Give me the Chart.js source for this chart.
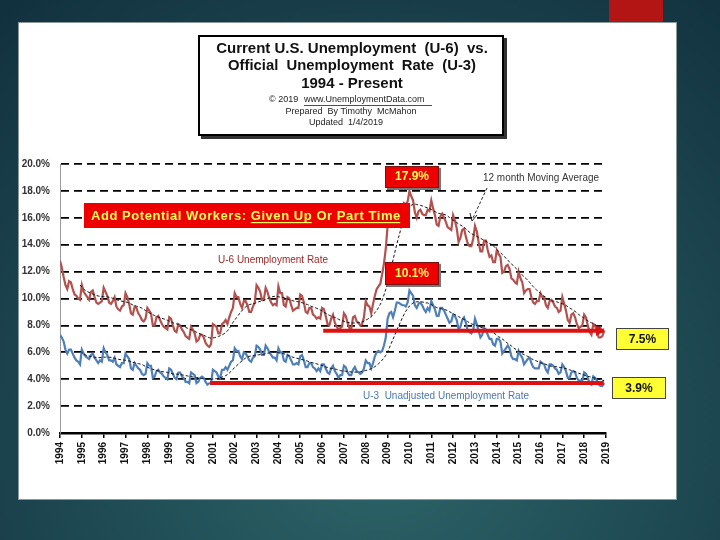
<!DOCTYPE html>
<html>
<head>
<meta charset="utf-8">
<script src="https://cdn.jsdelivr.net/npm/chart.js@4.4.1/dist/chart.umd.min.js"></script>
<style>
html, body { margin: 0; padding: 0; background: #1b4552; }
canvas { display: block; }
</style>
</head>
<body>
<canvas id="myChart" width="720" height="540"></canvas>
<script>
// Data (monthly, not seasonally adjusted), Jan 1994 .. Dec 2018
const startYear = 1994;
const endYear = 2019;
const yTickValues = [0, 2, 4, 6, 8, 10, 12, 14, 16, 18, 20];

const u6Rate = [
    12.8, 12.3, 11.6, 11.0, 10.7, 11.3, 11.2, 10.7, 10.3, 10.2, 10.0, 9.9,   // 1994
    11.0, 10.5, 10.3, 10.1, 9.9, 10.5, 10.6, 10.1, 9.7, 9.6, 9.7, 9.8,        // 1995
    10.8, 10.5, 10.2, 9.7, 9.6, 9.8, 10.1, 9.4, 9.2, 9.1, 9.4, 9.5,           // 1996
    10.4, 10.1, 9.6, 8.9, 8.8, 9.4, 9.3, 8.9, 8.7, 8.4, 8.3, 8.5,             // 1997
    9.3, 9.1, 8.9, 8.0, 8.0, 8.6, 8.7, 8.4, 8.1, 7.9, 7.8, 7.7,               // 1998
    8.6, 8.5, 8.0, 7.6, 7.5, 8.1, 8.0, 7.7, 7.5, 7.2, 7.1, 7.0,               // 1999
    7.9, 7.7, 7.4, 6.8, 6.9, 7.3, 7.3, 7.1, 6.7, 6.5, 6.4, 6.6,               // 2000
    8.1, 8.0, 7.9, 7.4, 7.4, 8.1, 8.2, 8.4, 8.1, 8.6, 9.0, 9.3,               // 2001
    10.4, 10.1, 10.1, 9.6, 9.3, 9.8, 9.8, 9.5, 9.0, 9.0, 9.4, 9.7,           // 2002
    11.0, 10.8, 10.5, 9.9, 9.9, 10.8, 10.5, 10.0, 9.7, 9.5, 9.6, 9.5,        // 2003
    10.9, 10.4, 10.4, 9.5, 9.4, 10.1, 10.0, 9.5, 9.1, 9.2, 9.3, 9.3,         // 2004
    10.3, 10.2, 9.7, 9.0, 8.9, 9.3, 9.3, 8.8, 8.7, 8.5, 8.6, 8.5,            // 2005
    9.3, 9.2, 8.7, 8.1, 8.0, 8.5, 8.8, 8.2, 7.9, 7.7, 7.8, 7.9,               // 2006
    8.9, 8.7, 8.2, 7.8, 7.7, 8.6, 8.7, 8.3, 8.2, 8.0, 8.1, 8.6,               // 2007
    9.8, 9.5, 9.4, 8.9, 9.6, 10.2, 10.7, 10.9, 11.1, 11.8, 12.6, 13.7,       // 2008
    15.4, 16.1, 16.4, 16.1, 16.4, 17.0, 16.9, 16.8, 16.6, 17.1, 17.0, 17.2,  // 2009
    18.0, 17.6, 17.3, 16.4, 16.0, 16.5, 16.6, 16.3, 16.2, 16.2, 16.6, 16.5,  // 2010
    17.3, 16.7, 16.2, 15.5, 15.4, 16.1, 16.3, 16.0, 15.7, 15.3, 15.2, 15.1,  // 2011
    16.2, 15.8, 15.2, 14.2, 14.5, 15.1, 15.2, 14.6, 14.1, 13.9, 13.9, 14.4,  // 2012
    15.4, 15.0, 14.2, 13.5, 13.5, 14.3, 14.3, 13.6, 13.1, 13.2, 12.7, 12.7,  // 2013
    13.6, 13.3, 13.1, 11.9, 12.0, 12.4, 12.5, 12.2, 11.5, 11.4, 11.2, 11.1,  // 2014
    12.0, 11.5, 11.2, 10.4, 10.6, 10.7, 10.7, 10.1, 9.7, 9.6, 9.8, 9.8,      // 2015
    10.4, 10.1, 10.1, 9.5, 9.3, 9.8, 9.9, 9.7, 9.4, 9.3, 9.0, 9.1,           // 2016
    10.1, 9.6, 9.1, 8.4, 8.2, 8.8, 8.9, 8.6, 8.1, 7.8, 7.9, 8.0,             // 2017
    8.8, 8.6, 8.0, 7.5, 7.3, 8.1, 8.0, 7.5, 7.1, 7.1, 7.2, 7.6                // 2018
];

const u3Rate = [
    7.3, 7.1, 6.8, 6.2, 5.9, 6.2, 6.2, 5.9, 5.6, 5.4, 5.3, 5.1,   // 1994
    6.2, 5.9, 5.7, 5.6, 5.5, 5.8, 5.9, 5.6, 5.4, 5.2, 5.4, 5.3,   // 1995
    6.3, 6.0, 5.8, 5.4, 5.4, 5.3, 5.6, 5.1, 5.0, 4.9, 5.2, 5.2,   // 1996
    5.9, 5.7, 5.5, 4.8, 4.7, 5.2, 5.0, 4.8, 4.7, 4.4, 4.3, 4.4,   // 1997
    5.2, 5.0, 5.0, 4.1, 4.2, 4.6, 4.7, 4.5, 4.4, 4.2, 4.1, 4.0,   // 1998
    4.8, 4.7, 4.4, 4.1, 4.0, 4.5, 4.5, 4.2, 4.1, 3.8, 3.8, 3.7,   // 1999
    4.5, 4.4, 4.3, 3.7, 3.8, 4.1, 4.2, 4.1, 3.8, 3.6, 3.7, 3.7,   // 2000
    4.7, 4.6, 4.5, 4.2, 4.1, 4.7, 4.7, 4.9, 4.7, 5.0, 5.3, 5.4,   // 2001
    6.3, 6.1, 6.1, 5.7, 5.5, 6.0, 5.9, 5.7, 5.4, 5.3, 5.6, 5.7,   // 2002
    6.5, 6.4, 6.2, 5.8, 5.8, 6.5, 6.3, 6.0, 5.8, 5.6, 5.6, 5.4,   // 2003
    6.3, 6.0, 6.0, 5.4, 5.3, 5.8, 5.7, 5.4, 5.1, 5.1, 5.2, 5.1,   // 2004
    5.7, 5.8, 5.4, 4.9, 4.9, 5.2, 5.2, 4.9, 4.8, 4.6, 4.8, 4.6,   // 2005
    5.1, 5.1, 4.8, 4.5, 4.4, 4.8, 5.0, 4.6, 4.4, 4.1, 4.3, 4.3,   // 2006
    5.0, 4.9, 4.5, 4.3, 4.3, 4.7, 4.9, 4.6, 4.5, 4.4, 4.5, 4.8,   // 2007
    5.4, 5.2, 5.2, 4.8, 5.2, 5.7, 6.0, 6.1, 6.0, 6.1, 6.5, 7.1,   // 2008
    8.5, 8.9, 9.0, 8.6, 9.1, 9.7, 9.7, 9.6, 9.5, 9.5, 9.4, 9.7,   // 2009
    10.6, 10.4, 10.2, 9.5, 9.3, 9.6, 9.7, 9.5, 9.2, 9.0, 9.3, 9.1, // 2010
    9.8, 9.5, 9.2, 8.7, 8.7, 9.3, 9.3, 9.1, 8.8, 8.5, 8.2, 8.3,   // 2011
    8.8, 8.7, 8.4, 7.7, 7.9, 8.4, 8.6, 8.2, 7.6, 7.5, 7.4, 7.6,   // 2012
    8.5, 8.1, 7.6, 7.1, 7.3, 7.8, 7.7, 7.3, 7.0, 7.0, 6.6, 6.5,   // 2013
    7.0, 7.0, 6.8, 5.9, 6.1, 6.3, 6.5, 6.3, 5.7, 5.5, 5.5, 5.4,   // 2014
    6.1, 5.8, 5.6, 5.1, 5.3, 5.5, 5.6, 5.2, 4.9, 4.8, 4.8, 4.8,   // 2015
    5.3, 5.2, 5.1, 4.7, 4.5, 5.1, 5.1, 5.0, 4.8, 4.7, 4.4, 4.5,   // 2016
    5.1, 4.9, 4.6, 4.1, 4.1, 4.5, 4.6, 4.5, 4.1, 3.9, 3.9, 3.9,   // 2017
    4.5, 4.4, 4.1, 3.7, 3.6, 4.2, 4.1, 3.9, 3.6, 3.5, 3.5, 3.7    // 2018
];

// red "floor" lines drawn on the chart
const u6FloorYears = [2006.05, 2018.9];
const u6FloorLevel = [7.6, 7.6];
const u3FloorYears = [2000.87, 2018.9];
const u3FloorLevel = [3.72, 3.72];

// callout labels
const u6PeakLabel = "17.9%";
const u3PeakLabel = "10.1%";
const u6NowLabel = "7.5%";
const u3NowLabel = "3.9%";


function toPoints(values) {
    return values.map((v, i) => ({ x: startYear + i / 12, y: v }));
}

function movingAverage(values) {
    const out = [];
    for (let i = 11; i < values.length; i++) {
        let s = 0;
        for (let k = i - 11; k <= i; k++) s += values[k];
        out.push({ x: startYear + i / 12, y: s / 12 });
    }
    return out;
}

function pairPoints(xs, ys) {
    return xs.map((x, i) => ({ x: x, y: ys[i] }));
}

const FONT = "'Liberation Sans', Arial, sans-serif";

function box(ctx, x1, y1, x2, y2, fill, stroke, shadow) {
    if (shadow) {
        ctx.fillStyle = shadow;
        ctx.fillRect(x1 + 2, y1 + 2, x2 - x1, y2 - y1);
    }
    ctx.fillStyle = fill;
    ctx.fillRect(x1, y1, x2 - x1, y2 - y1);
    if (stroke) {
        ctx.strokeStyle = stroke;
        ctx.lineWidth = 1;
        ctx.strokeRect(x1 + 0.5, y1 + 0.5, x2 - x1 - 1, y2 - y1 - 1);
    }
}

function text(ctx, str, x, y, font, color, align, maxW) {
    ctx.font = font;
    ctx.fillStyle = color;
    ctx.textAlign = align || "center";
    ctx.textBaseline = "middle";
    if (maxW) ctx.fillText(str, x, y, maxW);
    else ctx.fillText(str, x, y);
}

// background, slide panel, title box
const backdrop = {
    id: "backdrop",
    beforeDraw(chart) {
        const ctx = chart.ctx;
        ctx.save();
        const g = ctx.createRadialGradient(380, 430, 20, 380, 430, 560);
        g.addColorStop(0, "#2c6468");
        g.addColorStop(1, "#12313f");
        ctx.fillStyle = g;
        ctx.fillRect(0, 0, 720, 540);

        ctx.fillStyle = "#b31414";
        ctx.fillRect(609, 0, 54, 22);

        ctx.fillStyle = "#ffffff";
        ctx.fillRect(18, 22, 659, 478);
        ctx.strokeStyle = "#8a9a9c";
        ctx.lineWidth = 1;
        ctx.strokeRect(18.5, 22.5, 658, 477);

        // title box
        ctx.fillStyle = "#333";
        ctx.fillRect(201, 38, 306, 101);
        ctx.fillStyle = "#fff";
        ctx.fillRect(198, 35, 306, 101);
        ctx.strokeStyle = "#000";
        ctx.lineWidth = 2;
        ctx.strokeRect(199, 36, 304, 99);

        const cx = 352;
        text(ctx, "Current U.S. Unemployment  (U-6)  vs.", cx, 49, "bold 15px " + FONT, "#111", "center", 274);
        text(ctx, "Official  Unemployment  Rate  (U-3)", cx, 66, "bold 15px " + FONT, "#111", "center", 248);
        text(ctx, "1994 - Present", cx, 84, "bold 15px " + FONT, "#111", "center", 122);

        ctx.font = "9px " + FONT;
        ctx.textAlign = "left";
        ctx.fillStyle = "#222";
        ctx.fillText("\u00A9 2019", 269, 100, 30);
        ctx.fillText("www.UnemploymentData.com", 304, 100, 128);
        ctx.fillRect(304, 105, 128, 0.8);
        text(ctx, "Prepared  By Timothy  McMahon", 351, 112, "9px " + FONT, "#222", "center", 134);
        text(ctx, "Updated  1/4/2019", 346, 123, "9px " + FONT, "#222", "center", 84);
        ctx.restore();
    }
};

// text boxes and notes over the plot
const callouts = {
    id: "callouts",
    afterDraw(chart) {
        const ctx = chart.ctx;
        ctx.save();

        // small arrow head on the U-6 floor line
        ctx.fillStyle = "#dd1111";
        ctx.beginPath();
        ctx.moveTo(596, 325.5);
        ctx.lineTo(605, 330.7);
        ctx.lineTo(596, 336);
        ctx.closePath();
        ctx.fill();

        // big red banner, letter-spaced to fill the box
        box(ctx, 84, 203, 410, 228, "#ee0000", null, null);
        ctx.font = "bold 13px " + FONT;
        ctx.textBaseline = "middle";
        ctx.textAlign = "left";
        ctx.fillStyle = "#ffff55";
        const parts = [
            ["Add Potential Workers: ", false],
            ["Given Up", true],
            [" Or ", false],
            ["Part Time", true]
        ];
        const full = parts.map(p => p[0]).join("");
        const natural = ctx.measureText(full).width;
        const spacing = Math.max(0, (310 - natural) / full.length);
        ctx.letterSpacing = spacing.toFixed(2) + "px";
        let px = 91;
        parts.forEach(p => {
            const w = ctx.measureText(p[0]).width;
            ctx.fillText(p[0], px, 216);
            if (p[1]) ctx.fillRect(px, 222, w - spacing, 1.2);
            px += w;
        });
        ctx.letterSpacing = "0px";

        // peak boxes
        box(ctx, 385, 166, 439, 188, "#ee0000", "#7a1010", "#777");
        text(ctx, u6PeakLabel, 412, 177, "bold 12px " + FONT, "#ffff55", "center");
        box(ctx, 385, 262, 439, 285, "#ee0000", "#7a1010", "#777");
        text(ctx, u3PeakLabel, 412, 274, "bold 12px " + FONT, "#ffff55", "center");

        // current values
        box(ctx, 616, 328, 669, 350, "#ffff33", "#444", null);
        text(ctx, u6NowLabel, 642.5, 339.5, "bold 12px " + FONT, "#111", "center");
        box(ctx, 612, 377, 666, 399, "#ffff33", "#444", null);
        text(ctx, u3NowLabel, 639, 388.5, "bold 12px " + FONT, "#111", "center");

        // notes
        text(ctx, "12 month Moving Average", 541, 178, "10px " + FONT, "#333", "center", 116);
        text(ctx, "U-6 Unemployment Rate", 218, 260, "10px " + FONT, "#a02a2a", "left", 110);
        text(ctx, "U-3  Unadjusted Unemployment Rate", 363, 396, "10px " + FONT, "#4a78b0", "left", 166);

        // arrow to the moving average
        ctx.strokeStyle = "#222";
        ctx.lineWidth = 1;
        ctx.setLineDash([3, 2]);
        ctx.beginPath();
        ctx.moveTo(487, 188);
        ctx.lineTo(473, 218);
        ctx.stroke();
        ctx.setLineDash([]);
        ctx.beginPath();
        ctx.moveTo(470, 213);
        ctx.lineTo(472, 221);
        ctx.lineTo(477, 215);
        ctx.stroke();
        ctx.restore();
    }
};

const ctx = document.getElementById("myChart").getContext("2d");
const myChart = new Chart(ctx, {
    type: "line",
    data: {
        datasets: [
            {
                label: "U-6 moving average",
                data: movingAverage(u6Rate),
                borderColor: "#111",
                borderWidth: 1,
                borderDash: [3, 2],
                pointRadius: 0,
                order: 1
            },
            {
                label: "U-3 moving average",
                data: movingAverage(u3Rate),
                borderColor: "#111",
                borderWidth: 1,
                borderDash: [3, 2],
                pointRadius: 0,
                order: 1
            },
            {
                label: "U-6 floor",
                data: pairPoints(u6FloorYears, u6FloorLevel),
                borderColor: "#dd1111",
                borderWidth: 4,
                pointRadius: 0,
                order: 0
            },
            {
                label: "U-3 floor",
                data: pairPoints(u3FloorYears, u3FloorLevel),
                borderColor: "#dd1111",
                borderWidth: 4,
                pointRadius: 0,
                order: 0
            },
            {
                label: "U-6",
                data: toPoints(u6Rate),
                borderColor: "#b3514f",
                borderWidth: 2.2,
                pointRadius: 0,
                order: 2
            },
            {
                label: "U-3",
                data: toPoints(u3Rate),
                borderColor: "#4f7fb8",
                borderWidth: 2.2,
                pointRadius: 0,
                order: 2
            }
        ]
    },
    options: {
        responsive: false,
        animation: false,
        devicePixelRatio: 1,
        layout: {
            padding: { left: 18, right: 114, top: 164, bottom: 67 }
        },
        plugins: {
            legend: { display: false },
            tooltip: { enabled: false }
        },
        elements: { line: { tension: 0 } },
        scales: {
            x: {
                type: "linear",
                min: startYear,
                max: endYear,
                afterFit: s => { s.height = 40; },
                ticks: {
                    stepSize: 1,
                    autoSkip: false,
                    minRotation: 90,
                    maxRotation: 90,
                    padding: 4,
                    color: "#111",
                    font: { family: FONT, size: 10, weight: "bold" },
                    callback: v => String(v)
                },
                grid: {
                    drawOnChartArea: false,
                    drawTicks: true,
                    tickLength: 5,
                    color: "#000",
                    lineWidth: 1.5
                },
                border: { display: true, color: "#000", width: 2.5 }
            },
            y: {
                min: 0,
                max: 20,
                afterFit: s => { s.width = 42; },
                afterBuildTicks: s => { s.ticks = yTickValues.map(v => ({ value: v })); },
                ticks: {
                    padding: 10,
                    color: "#333",
                    font: { family: FONT, size: 10, weight: "bold" },
                    callback: v => v.toFixed(1) + "%"
                },
                grid: {
                    drawTicks: false,
                    color: "#000",
                    lineWidth: 1.8
                },
                border: { display: true, color: "#999", width: 1, dash: [8, 5] }
            }
        }
    },
    plugins: [backdrop, callouts]
});
</script>
</body>
</html>
